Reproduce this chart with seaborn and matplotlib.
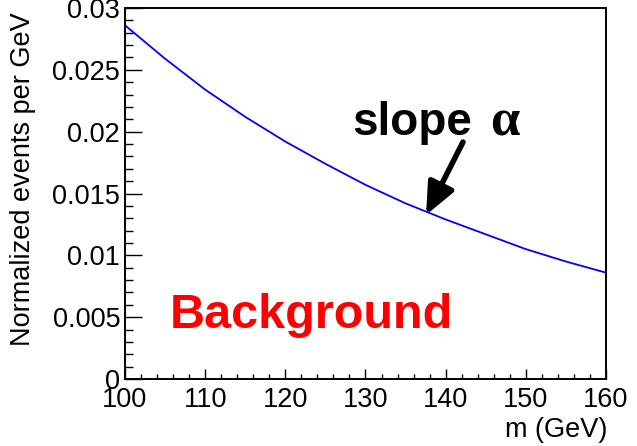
import matplotlib
matplotlib.use("Agg")
import matplotlib.pyplot as plt
from matplotlib.ticker import MultipleLocator
import numpy as np
import pandas as pd
import seaborn as sns

# Normalized background shape (events per GeV) versus mass
mass = [100, 105, 110, 115, 120, 125, 130, 135, 140, 145, 150, 155, 160]
density = [0.0286, 0.0259, 0.0234, 0.0212, 0.0192, 0.0174, 0.0157,
           0.0142, 0.0129, 0.0117, 0.0105, 0.0095, 0.0086]

x_ticks = [100, 110, 120, 130, 140, 150, 160]
y_ticks = [0, 0.005, 0.01, 0.015, 0.02, 0.025, 0.03]
y_tick_labels = ["0", "0.005", "0.01", "0.015", "0.02", "0.025", "0.03"]

sns.set_theme(style="ticks")
plt.rcParams["font.family"] = ["Liberation Sans", "DejaVu Sans"]

df = pd.DataFrame({"m": mass, "density": density})

fig = plt.figure(figsize=(6.37, 4.46), dpi=100)
ax = fig.add_axes([125 / 637, 1 - 379 / 446, (606 - 125) / 637, (379 - 8) / 446])

sns.lineplot(data=df, x="m", y="density", ax=ax, color="#0000ff",
             linewidth=1.3, legend=False)

ax.set_xlim(100, 160)
ax.set_ylim(0, 0.03)
ax.set_xticks(x_ticks)
ax.set_xticklabels([str(t) for t in x_ticks])
ax.set_yticks(y_ticks)
ax.set_yticklabels(y_tick_labels)
ax.xaxis.set_minor_locator(MultipleLocator(2))
ax.yaxis.set_minor_locator(MultipleLocator(0.001))

for side in ["left", "bottom", "top", "right"]:
    ax.spines[side].set_linewidth(1.4)
    ax.spines[side].set_color("black")

ax.tick_params(axis="both", which="both", direction="in", color="black",
               width=1.0, top=False, right=False, labelcolor="black")
ax.tick_params(axis="y", which="major", length=12, pad=3.5, labelsize=19.5)
ax.tick_params(axis="y", which="minor", length=6)
ax.tick_params(axis="x", which="major", length=7.5, pad=5.5, labelsize=19.5)
ax.tick_params(axis="x", which="minor", length=3.8)
ax.set_xlabel("")
ax.set_ylabel("")

fig.text(23 / 637, 1 - 12 / 446, "Normalized events per GeV", rotation=90,
         ha="center", va="top", fontsize=19.5, color="black")
fig.text(607 / 637, 1 - 417 / 446, "m (GeV)", ha="right", va="top",
         fontsize=19.5, color="black")

# Annotation marking the exponential slope
ax.text(128.3, 0.01973, "slope", fontsize=33, fontweight="bold",
        ha="left", va="baseline", color="black")
ax.text(145.6, 0.01973, "\u03b1", fontsize=38, family="Liberation Serif",
        fontweight="bold", ha="left", va="baseline", color="black")
ax.annotate("", xy=(137.55, 0.01326), xytext=(142.16, 0.01916),
            arrowprops=dict(arrowstyle="-|>,head_length=1.6,head_width=0.7",
                            lw=4, color="black", shrinkA=0, shrinkB=0,
                            mutation_scale=12))

ax.text(105.6, 0.00412, "Background", fontsize=35, fontweight="bold",
        ha="left", va="baseline", color="#ff0000")

fig.savefig("out.png", dpi=100, facecolor="white")
